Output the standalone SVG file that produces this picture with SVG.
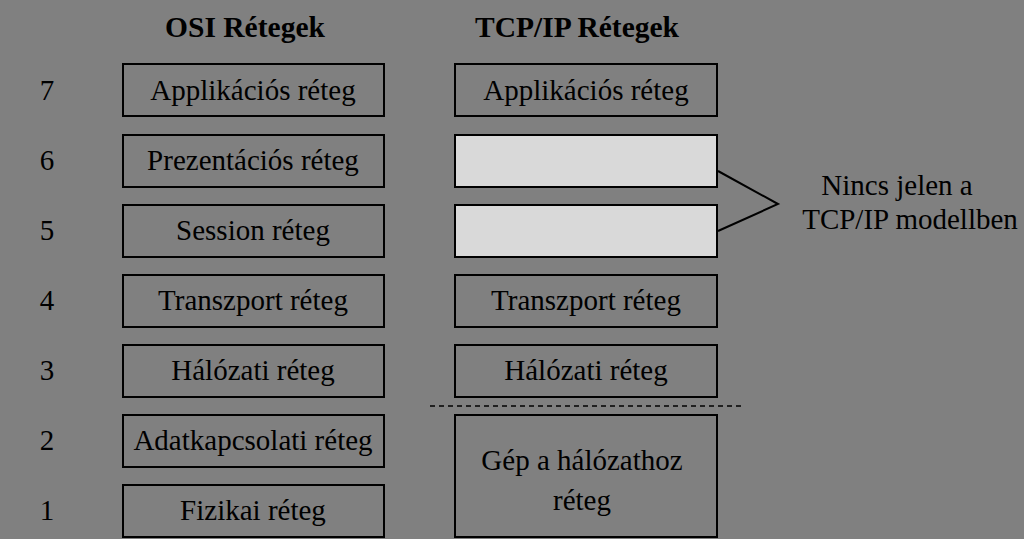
<svg xmlns="http://www.w3.org/2000/svg" width="1024" height="539" viewBox="0 0 1024 539">
<style>
.b{fill:none;stroke:#000;stroke-width:2}
.g{fill:#d9d9d9;stroke:#000;stroke-width:2}
text{font-family:"Liberation Serif",serif;font-size:29px;fill:#000;text-anchor:middle}
.h{font-weight:bold;font-size:29.5px}
</style>
<rect width="1024" height="539" fill="#808080"/>
<text class="h" x="245" y="37">OSI Rétegek</text>
<text class="h" x="577" y="37">TCP/IP Rétegek</text>
<g id="nums">
<text x="47" y="100">7</text><text x="47" y="170">6</text><text x="47" y="240">5</text><text x="47" y="310">4</text><text x="47" y="380">3</text><text x="47" y="450">2</text><text x="47" y="520">1</text>
</g>
<g id="osi7"><rect class="b" x="123" y="64" width="261" height="52"/><text x="253" y="100">Applikációs réteg</text></g>
<g id="osi6"><rect class="b" x="123" y="135" width="261" height="52"/><text x="253" y="170">Prezentációs réteg</text></g>
<g id="osi5"><rect class="b" x="123" y="205" width="261" height="52"/><text x="253" y="240">Session réteg</text></g>
<g id="osi4"><rect class="b" x="123" y="275" width="261" height="52"/><text x="253" y="310">Transzport réteg</text></g>
<g id="osi3"><rect class="b" x="123" y="345" width="261" height="52"/><text x="253" y="380">Hálózati réteg</text></g>
<g id="osi2"><rect class="b" x="123" y="415" width="261" height="52"/><text x="253" y="450">Adatkapcsolati réteg</text></g>
<g id="osi1"><rect class="b" x="123" y="485" width="261" height="52"/><text x="253" y="520">Fizikai réteg</text></g>
<g id="tcp4"><rect class="b" x="455" y="64" width="262" height="52"/><text x="586" y="100">Applikációs réteg</text></g>
<g id="tcp6"><rect class="g" x="455" y="135" width="262" height="52"/></g>
<g id="tcp5"><rect class="g" x="455" y="205" width="262" height="52"/></g>
<g id="tcp3"><rect class="b" x="455" y="275" width="262" height="52"/><text x="586" y="310">Transzport réteg</text></g>
<g id="tcp2"><rect class="b" x="455" y="345" width="262" height="52"/><text x="586" y="380">Hálózati réteg</text></g>
<g id="tcp1"><rect class="b" x="455" y="415" width="262" height="122"/><text x="582" y="470">Gép a hálózathoz</text><text x="582" y="510">réteg</text></g>
<g id="note"><text x="897" y="195">Nincs jelen a</text><text x="910" y="229">TCP/IP modellben</text></g>
<g id="connectors" fill="none" stroke="#000" stroke-width="2">
<polyline points="718,171 778,204 718,231"/>
<line x1="430" y1="406" x2="745" y2="406" stroke-dasharray="5,4" stroke-width="1.5"/>
</g>
</svg>
